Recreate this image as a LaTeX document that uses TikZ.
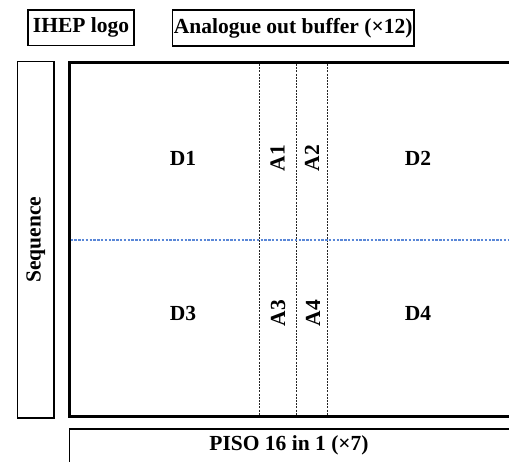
\documentclass[tikz,border=0pt]{standalone}
\usepackage{fontspec}
\setmainfont{Liberation Serif}
\definecolor{msblue}{RGB}{90,135,215}
\begin{document}
\begin{tikzpicture}[x=1pt,y=-1pt,
  lbl/.style={font=\fontsize{21.5}{25}\selectfont\bfseries, inner sep=0pt},
  boxn/.style={draw, line width=1.3pt, inner sep=0pt, font=\fontsize{21.5}{25}\selectfont\bfseries},
  sep/.style={dash pattern=on 2pt off 1.2pt, line width=1.4pt, black!85},
  half/.style={msblue, dash pattern=on 2.4pt off 1.4pt, line width=1.3pt}]
\useasboundingbox (0,0) rectangle (509,462);
\clip (0,0) rectangle (509,462);
\fill[white] (0,0) rectangle (509,462);
% top boxes
\node[boxn, minimum width=106pt, minimum height=35.5pt] (logo) at (81,27.8) {IHEP logo};
\node[boxn, minimum width=241.5pt, minimum height=36pt] (abuf) at (293.2,28) {Analogue out buffer (\texttimes12)};
% sequence
\node[boxn, minimum width=356.5pt, minimum height=36.5pt, rotate=90] (seq) at (35.7,239.7) {Sequence};
% main array
\draw[line width=3pt] (540,62.5) -- (69,62.5) -- (69,416) -- (540,416);
\coordinate (t1) at (259.5,64) ; \coordinate (b1) at (259.5,414.5);
\coordinate (t2) at (296.5,64); \coordinate (b2) at (296.5,414.5);
\coordinate (t3) at (327.5,64); \coordinate (b3) at (327.5,414.5);
\draw[sep] (t1) -- (b1);
\draw[sep] (t2) -- (b2);
\draw[sep] (t3) -- (b3);
\coordinate (hl) at (70.5,240); \coordinate (hr) at (509,240);
\draw[half] (hl) -- (hr);
% labels
\node[lbl] (d1) at (183,158) {D1};
\node[lbl, rotate=90] (a1) at (277.5,158) {A1};
\node[lbl, rotate=90] (a2) at (312,158) {A2};
\node[lbl] (d2) at (418,158) {D2};
\node[lbl] (d3) at (183,313) {D3};
\node[lbl, rotate=90] (a3) at (278,313) {A3};
\node[lbl, rotate=90] (a4) at (313,313) {A4};
\node[lbl] (d4) at (418,313) {D4};
% PISO
\draw[line width=1.3pt] (540,429) -- (69.5,429) -- (69.5,480);
\node[lbl] (piso) at (289,445) {PISO 16 in 1 (\texttimes7)};
\end{tikzpicture}
\end{document}
